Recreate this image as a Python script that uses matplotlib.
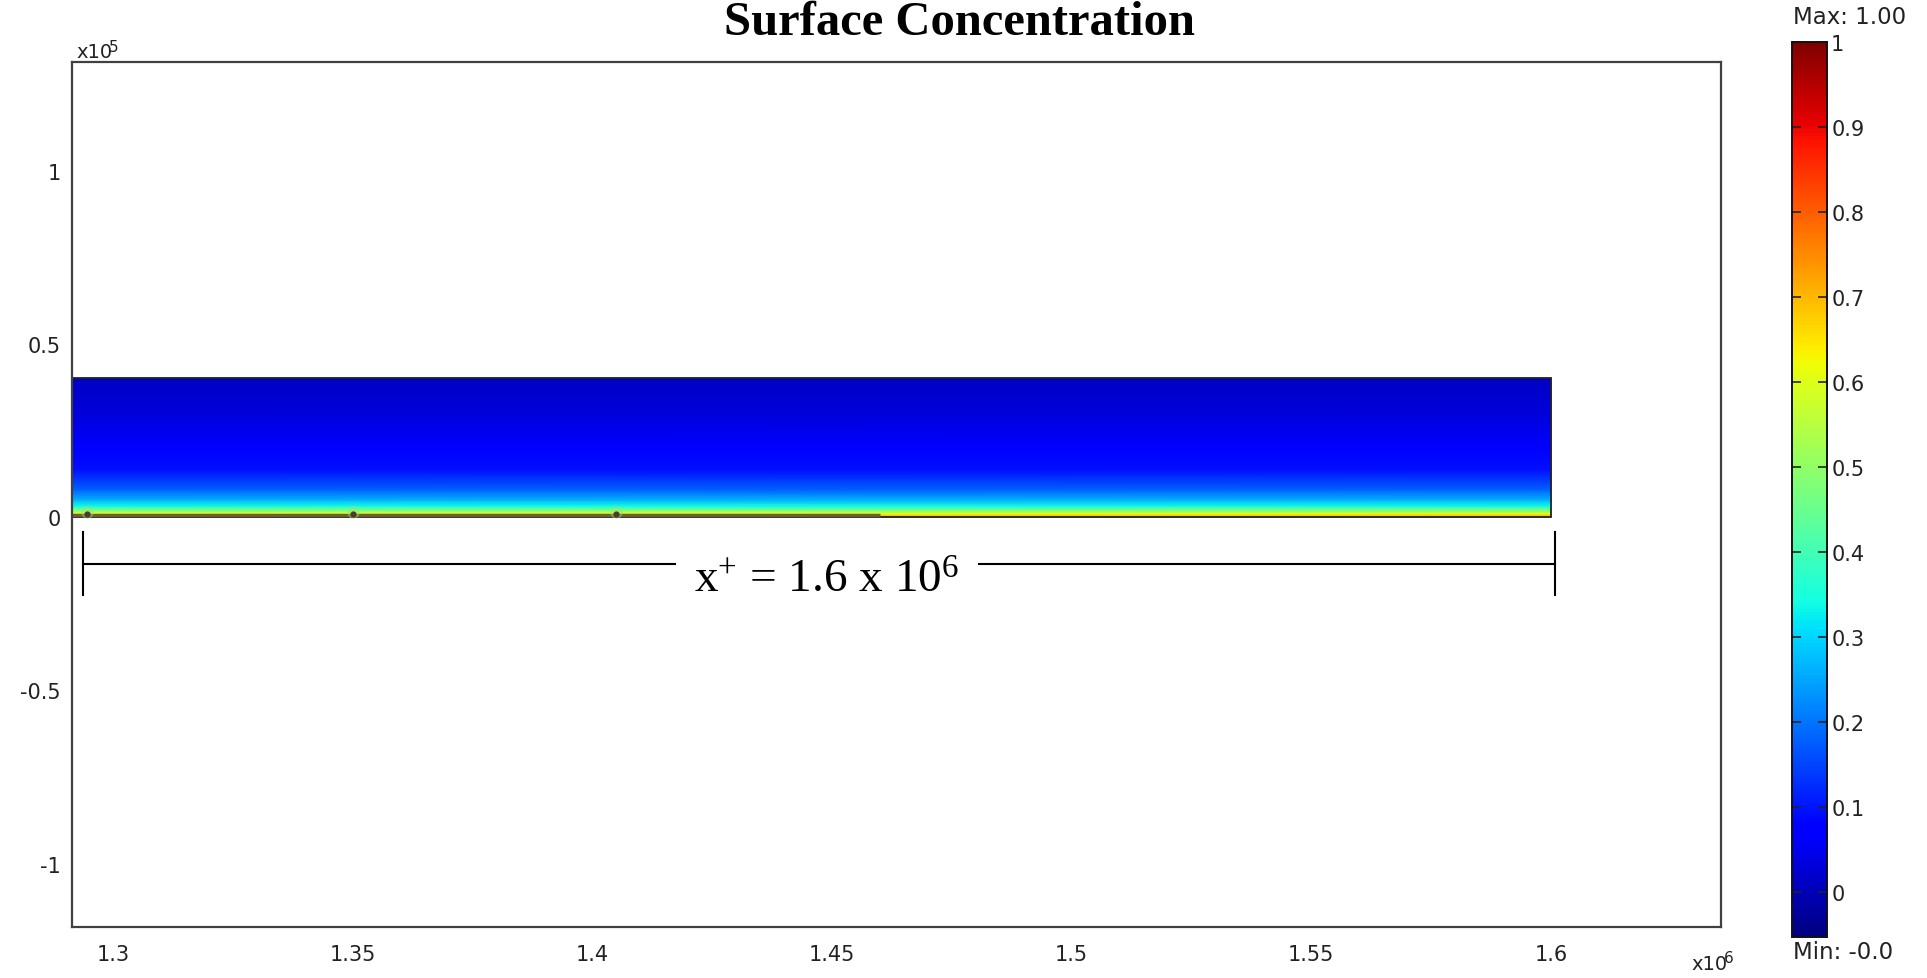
import numpy as np
import matplotlib
matplotlib.use('Agg')
import matplotlib.pyplot as plt
from matplotlib.patches import Rectangle

plt.rcParams['mathtext.fontset'] = 'custom'
plt.rcParams['mathtext.rm'] = 'Liberation Serif'
plt.rcParams['mathtext.default'] = 'regular'

# concentration profile across the strip (y in units of 1e5)
y_nodes = [0.0, 0.004, 0.010, 0.016, 0.030, 0.050, 0.079, 0.137, 0.2, 0.3, 0.4]
conc = [0.72, 0.69, 0.6, 0.53, 0.35, 0.26, 0.18, 0.095, 0.065, 0.03, 0.012]

# strip extent (x in units of 1e6)
x_start, x_end = 1.29, 1.6
wall_dark_end = 1.46
bump_x = [1.2945, 1.35, 1.405]

x_ticks = [1.3, 1.35, 1.4, 1.45, 1.5, 1.55, 1.6]
x_labels = ['1.3', '1.35', '1.4', '1.45', '1.5', '1.55', '1.6']
y_ticks = [-1, -0.5, 0, 0.5, 1]
y_labels = ['-1', '-0.5', '0', '0.5', '1']
cb_ticks = [0, 0.1, 0.2, 0.3, 0.4, 0.5, 0.6, 0.7, 0.8, 0.9, 1.0]
cb_labels = ['0', '0.1', '0.2', '0.3', '0.4', '0.5', '0.6', '0.7', '0.8', '0.9', '1']
c_min, c_max = -0.053, 1.0

# dimension marker
dim_x = [1.2937, 1.6008]
dim_y = -0.136
dim_gap = [1.4173, 1.4807]

fig = plt.figure(figsize=(19.27, 9.79), dpi=100)
ax = fig.add_axes([0.03736, 0.0521, 0.8558, 0.8835])

X, Y = np.meshgrid([x_start, x_end], y_nodes)
C = np.column_stack([conc, conc])
im = ax.pcolormesh(X, Y, C, shading='gouraud', cmap='jet', vmin=c_min, vmax=c_max)

# darker wall segment and small bumps along the bottom
ax.plot([x_start, wall_dark_end], [0.005, 0.005], color='#6b5e34', lw=2.5, solid_capstyle='butt')
ax.plot(bump_x, [0.016] * len(bump_x), 'o', color='#9be07a', ms=9, mec='none', alpha=0.45)
ax.plot(bump_x, [0.008] * len(bump_x), 'o', color='#4a3b2c', ms=4.5, mec='none')
ax.add_patch(Rectangle((x_start, 0), x_end - x_start, y_nodes[-1], fill=False,
                       edgecolor='#222222', lw=1.3))

ax.set_xlim(1.29145, 1.63549)
ax.set_ylim(-1.183, 1.313)
ax.set_xticks(x_ticks)
ax.set_xticklabels(x_labels)
ax.set_yticks(y_ticks)
ax.set_yticklabels(y_labels)
ax.tick_params(axis='x', length=0, pad=12, labelsize=15, colors='#222222')
ax.tick_params(axis='y', length=0, pad=8, labelsize=15, colors='#222222')
for sp in ax.spines.values():
    sp.set_color('#404040')
    sp.set_linewidth(1.6)

# dimension annotation
ax.plot([dim_x[0], dim_gap[0]], [dim_y, dim_y], color='black', lw=1.5)
ax.plot([dim_gap[1], dim_x[1]], [dim_y, dim_y], color='black', lw=1.5)
for xx in dim_x:
    ax.plot([xx, xx], [-0.043, -0.225], color='black', lw=1.5)
ax.text(1.4489, -0.216, 'x$^{+}$ = 1.6 x 10$^{6}$', ha='center', va='baseline',
        fontsize=34, family='Liberation Serif')

fig.text(0.4977, 0.9643, 'Surface Concentration', ha='center', va='baseline',
         fontsize=35, fontweight='bold', family='Liberation Serif')

# axis multipliers
fig.text(76 / 1927, 1 - 53 / 979, 'x10', fontsize=14, va='center', color='#222222')
fig.text(109 / 1927, 1 - 47 / 979, '5', fontsize=11, va='center', color='#222222')
fig.text(1691 / 1927, 1 - 965 / 979, 'x10', fontsize=14, va='center', color='#222222')
fig.text(1724 / 1927, 1 - 959 / 979, '6', fontsize=11, va='center', color='#222222')

# colorbar
cax = fig.add_axes([0.92994, 0.04188, 0.01816, 0.91420])
cb = fig.colorbar(im, cax=cax)
cb.set_ticks(cb_ticks)
cb.set_ticklabels(cb_labels)
cb.outline.set_edgecolor('#111111')
cb.outline.set_linewidth(1.4)
cax.tick_params(axis='y', direction='in', left=True, right=True, labelleft=False,
                labelright=True, length=6.5, width=1.2, pad=3, labelsize=15, colors='#222222')
fig.text(1793 / 1927, 1 - 17 / 979, 'Max: 1.00', fontsize=16.5, va='center', color='#222222')
fig.text(1793 / 1927, 1 - 953 / 979, 'Min: -0.0', fontsize=16.5, va='center', color='#222222')

fig.savefig('out.png', dpi=100)
